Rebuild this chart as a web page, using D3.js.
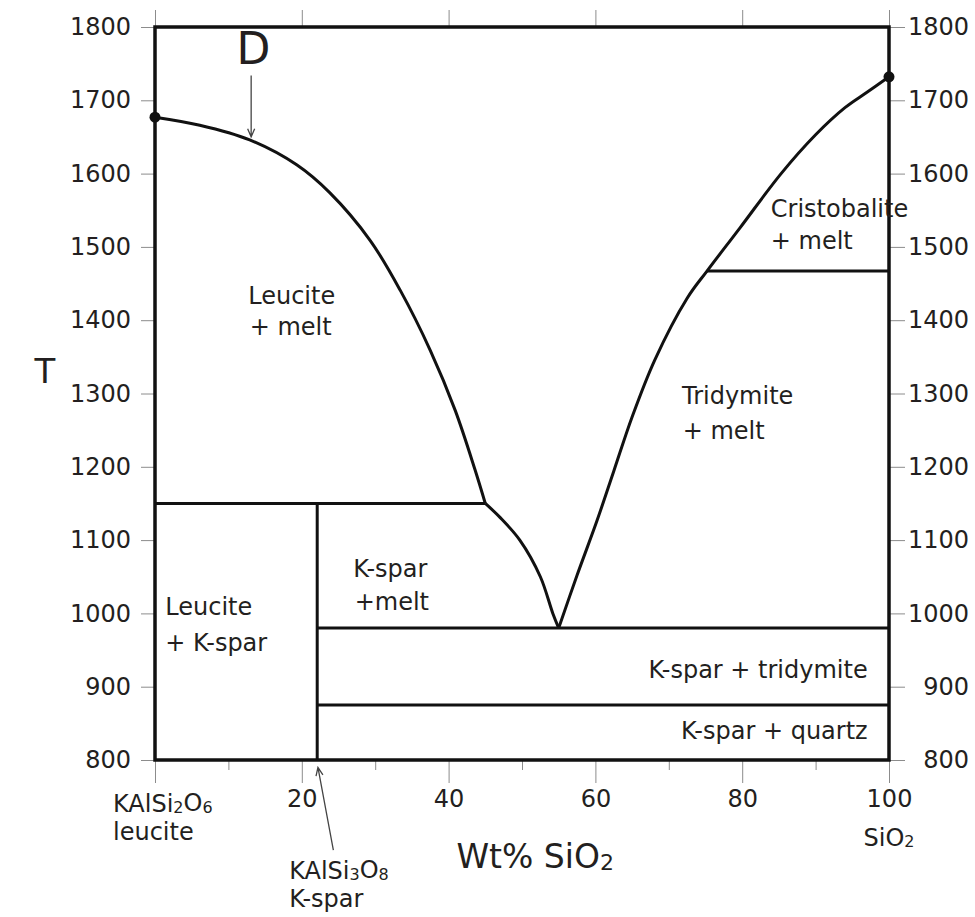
<!DOCTYPE html>
<meta charset="utf-8">
<style>
body { margin: 0; background: #fff; }
svg { background: #fff; }
text { font-family: "DejaVu Sans", sans-serif; fill: #231f20; }
.axis text { font-size: 24px; }
.axis line { stroke: #8c8c8c; stroke-width: 1px; }
.boundary { fill: none; stroke: #111; stroke-width: 3px; stroke-linejoin: round; }
.frame { fill: none; stroke: #111; stroke-width: 3.5px; }
.pointer { fill: none; stroke: #444; stroke-width: 1.3px; }
.region { font-size: 24px; }
</style>
<svg width="975" height="917"></svg>
<script src="https://cdn.jsdelivr.net/npm/d3@7"></script>
<script>

// temperature ticks (deg C) and wt% SiO2 ticks
var tTicks = [800, 900, 1000, 1100, 1200, 1300, 1400, 1500, 1600, 1700, 1800];
var xMajor = [0, 20, 40, 60, 80, 100];
var xMinor = [10, 30, 50, 70, 90];
var xLabels = ["", "20", "40", "60", "80", "100"];

// liquidus curves, [wt% SiO2, T]
var leuciteLiquidus = [[0, 1677], [6.1, 1666], [12.9, 1646], [19.3, 1612], [23.8, 1574],
  [29.3, 1509], [33.4, 1441], [37.5, 1359], [40.9, 1277], [43.6, 1196], [45, 1150]];
var ksparLiquidus = [[45, 1150], [47, 1131], [49.7, 1100], [52.5, 1050], [54.2, 1000], [55, 980]];
var silicaLiquidus = [[55, 980], [57.5, 1052], [60.2, 1126], [62.5, 1194], [65, 1268], [68.1, 1346],
  [72.5, 1430], [75.2, 1467], [79.7, 1526], [85.3, 1600], [90, 1653], [94, 1690], [97, 1711], [100, 1732]];

// melting points of the end members
var meltingPoints = [[0, 1677], [100, 1732]];

// straight phase boundaries, [x1, T1, x2, T2]
var kspar = 22.1;
var boundaries = [
  [0, 1150, 45, 1150],          // peritectic
  [kspar, 800, kspar, 1150],    // K-spar composition
  [kspar, 980, 100, 980],       // eutectic
  [kspar, 875, 100, 875],       // tridymite / quartz
  [75.2, 1467, 100, 1467]       // cristobalite / tridymite
];

// field labels [text, wt%, T, anchor]
var fieldLabels = [
  ["Leucite", 12.7, 1434, "start"], ["+ melt", 12.9, 1391, "start"],
  ["Cristobalite", 83.9, 1552, "start"], ["+ melt", 83.9, 1509, "start"],
  ["Tridymite", 71.8, 1298, "start"], ["+ melt", 71.9, 1250, "start"],
  ["K-spar", 27.0, 1062, "start"], ["+melt", 27.2, 1016, "start"],
  ["Leucite", 1.4, 1009, "start"], ["+ K-spar", 1.4, 960, "start"],
  ["K-spar + tridymite", 97.1, 924, "end"],
  ["K-spar + quartz", 97.1, 840, "end"]
];

// pointer arrows [x1, T1, x2, T2]
var pointers = [[13.1, 1734, 13.1, 1650], [24.3, 677, 22.2, 790]];

var svg = d3.select("svg");
var x = d3.scaleLinear().domain([0, 100]).range([155, 889]);
var y = d3.scaleLinear().domain([800, 1800]).range([760, 27]);

// axes
svg.append("g").attr("class", "axis")
    .attr("transform", "translate(" + x(0) + ",0)")
    .call(d3.axisLeft(y).tickValues(tTicks).tickSize(14).tickPadding(10).tickFormat(d3.format("d")))
    .call(function(g) { g.select(".domain").remove(); });

svg.append("g").attr("class", "axis")
    .attr("transform", "translate(" + x(100) + ",0)")
    .call(d3.axisRight(y).tickValues(tTicks).tickSize(16).tickPadding(8).tickFormat(d3.format("d")))
    .call(function(g) {
      g.select(".domain").remove();
      g.selectAll("text").attr("text-anchor", "end").attr("x", 80);
    });

svg.append("g").attr("class", "axis")
    .attr("transform", "translate(0," + y(1800) + ")")
    .call(d3.axisTop(x).tickValues(xMajor).tickSize(17).tickFormat(""))
    .call(function(g) { g.select(".domain").remove(); });

svg.append("g").attr("class", "axis")
    .attr("transform", "translate(0," + y(800) + ")")
    .call(d3.axisBottom(x).tickValues(xMajor).tickSize(23).tickPadding(7)
      .tickFormat(function(d, i) { return xLabels[i]; }))
    .call(function(g) { g.select(".domain").remove(); });

svg.append("g").attr("class", "axis")
    .attr("transform", "translate(0," + y(800) + ")")
    .call(d3.axisBottom(x).tickValues(xMinor).tickSize(10).tickFormat(""))
    .call(function(g) { g.select(".domain").remove(); });

// phase boundaries
var line = d3.line()
    .curve(d3.curveCatmullRom)
    .x(function(d) { return x(d[0]); })
    .y(function(d) { return y(d[1]); });

[leuciteLiquidus, ksparLiquidus, silicaLiquidus].forEach(function(c) {
  svg.append("path").attr("class", "boundary").attr("d", line(c));
});

svg.selectAll(".seg").data(boundaries).enter().append("line")
    .attr("class", "boundary")
    .attr("x1", function(d) { return x(d[0]); })
    .attr("y1", function(d) { return y(d[1]); })
    .attr("x2", function(d) { return x(d[2]); })
    .attr("y2", function(d) { return y(d[3]); });

// frame
svg.append("rect").attr("class", "frame")
    .attr("x", x(0)).attr("y", y(1800))
    .attr("width", x(100) - x(0)).attr("height", y(800) - y(1800));

svg.selectAll(".mp").data(meltingPoints).enter().append("circle")
    .attr("cx", function(d) { return x(d[0]); })
    .attr("cy", function(d) { return y(d[1]); })
    .attr("r", 5.5)
    .attr("fill", "#111");

// field labels
svg.selectAll(".region").data(fieldLabels).enter().append("text")
    .attr("class", "region")
    .attr("x", function(d) { return x(d[1]); })
    .attr("y", function(d) { return y(d[2]); })
    .attr("dy", "0.36em")
    .attr("text-anchor", function(d) { return d[3]; })
    .text(function(d) { return d[0]; });

// arrows
pointers.forEach(function(p) {
  var x1 = x(p[0]), y1 = y(p[1]), x2 = x(p[2]), y2 = y(p[3]);
  var a = Math.atan2(y2 - y1, x2 - x1), len = 9, spread = 0.4;
  svg.append("path").attr("class", "pointer")
      .attr("d", "M" + x1 + "," + y1 + "L" + x2 + "," + y2 +
        "M" + (x2 - len * Math.cos(a - spread)) + "," + (y2 - len * Math.sin(a - spread)) +
        "L" + x2 + "," + y2 +
        "L" + (x2 - len * Math.cos(a + spread)) + "," + (y2 - len * Math.sin(a + spread)));
});

svg.append("text")
    .attr("x", x(13.4)).attr("y", y(1771)).attr("dy", "0.36em")
    .attr("text-anchor", "middle")
    .style("font-size", "44px")
    .text("D");

svg.append("text")
    .attr("x", 45).attr("y", 371).attr("dy", "0.36em")
    .attr("text-anchor", "middle")
    .style("font-size", "34px")
    .text("T");

// formula labels with subscripts
function formula(g, parts, size) {
  parts.forEach(function(p, i) {
    var t = g.append("tspan").text(p);
    if (i % 2 == 1) t.style("font-size", Math.round(size * 0.68) + "px").attr("dy", "0.08em");
    else if (i > 0) t.attr("dy", "-0.08em");
  });
}

var t1 = svg.append("text").attr("x", x(0) - 42).attr("y", 812).style("font-size", "24px");
formula(t1, ["KAlSi", "2", "O", "6"], 24);
svg.append("text").attr("x", x(0) - 42).attr("y", 840).style("font-size", "24px").text("leucite");

var t2 = svg.append("text").attr("x", x(100)).attr("y", 846).attr("text-anchor", "middle").style("font-size", "24px");
formula(t2, ["SiO", "2"], 24);

var t3 = svg.append("text").attr("x", x(kspar) - 28).attr("y", 879).style("font-size", "24px");
formula(t3, ["KAlSi", "3", "O", "8"], 24);
svg.append("text").attr("x", x(kspar) - 28).attr("y", 907).style("font-size", "24px").text("K-spar");

var t4 = svg.append("text").attr("x", x(51.8)).attr("y", 868).attr("text-anchor", "middle").style("font-size", "33px");
formula(t4, ["Wt% SiO", "2"], 33);

</script>
